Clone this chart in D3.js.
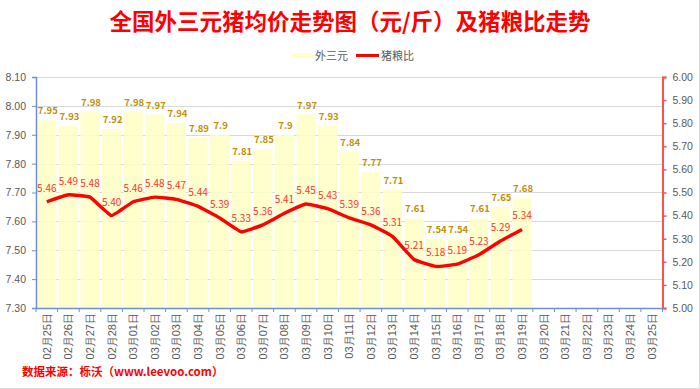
<!DOCTYPE html>
<html>
<head>
<meta charset="utf-8">
<script src="https://cdn.jsdelivr.net/npm/d3@7/dist/d3.min.js"></script>
<style>
  body { margin: 0; background: #fff; }
  svg { display: block; font-family: "Noto Sans CJK SC", "Noto Sans", sans-serif; }
</style>
</head>
<body>
<div id="chart"></div>
<script>
var dates = ["02月25日","02月26日","02月27日","02月28日","03月01日","03月02日","03月03日","03月04日",
  "03月05日","03月06日","03月07日","03月08日","03月09日","03月10日","03月11日","03月12日","03月13日",
  "03月14日","03月15日","03月16日","03月17日","03月18日","03月19日","03月20日","03月21日","03月22日",
  "03月23日","03月24日","03月25日"];
var priceValues = [7.95, 7.93, 7.98, 7.92, 7.98, 7.97, 7.94, 7.89, 7.9, 7.81, 7.85, 7.9, 7.97, 7.93,
  7.84, 7.77, 7.71, 7.61, 7.54, 7.54, 7.61, 7.65, 7.68];
var ratioValues = [5.46, 5.49, 5.48, 5.40, 5.46, 5.48, 5.47, 5.44, 5.39, 5.33, 5.36, 5.41, 5.45, 5.43,
  5.39, 5.36, 5.31, 5.21, 5.18, 5.19, 5.23, 5.29, 5.34];
var leftTicks = [7.3, 7.4, 7.5, 7.6, 7.7, 7.8, 7.9, 8.0, 8.1];
var rightTicks = [5.0, 5.1, 5.2, 5.3, 5.4, 5.5, 5.6, 5.7, 5.8, 5.9, 6.0];

var width = 700, height = 389;
var plotL = 36, plotR = 662.5, plotT = 77, plotB = 308;

var svg = d3.select("#chart").append("svg")
  .attr("width", width)
  .attr("height", height);

// outer frame (right and bottom edges only show)
svg.append("line").attr("x1", 699.5).attr("x2", 699.5).attr("y1", 0).attr("y2", 388.5)
  .style("stroke", "#d9d9d9");
svg.append("line").attr("x1", 0).attr("x2", 699.5).attr("y1", 388.5).attr("y2", 388.5)
  .style("stroke", "#d9d9d9");

var x = d3.scaleBand().domain(dates).range([plotL, plotR]).paddingInner(0.11).paddingOuter(0.055);
var yL = d3.scaleLinear().domain([7.3, 8.1]).range([plotB, plotT]);
var yR = d3.scaleLinear().domain([5.0, 6.0]).range([plotB, plotT]);

// title
svg.append("text")
  .attr("x", 350).attr("y", 30)
  .attr("text-anchor", "middle")
  .style("font-size", "22.5px")
  .style("font-weight", "bold")
  .style("fill", "#ff0000")
  .text("全国外三元猪均价走势图（元/斤）及猪粮比走势");

// legend
var lg = svg.append("g").style("font-size", "11px").style("fill", "#595959");
lg.append("rect").attr("x", 292).attr("y", 53).attr("width", 21).attr("height", 5).style("fill", "#ffffc8");
lg.append("text").attr("x", 315).attr("y", 59.5).text("外三元");
lg.append("line").attr("x1", 356).attr("x2", 379).attr("y1", 55.5).attr("y2", 55.5)
  .style("stroke", "#ff0000").style("stroke-width", 3);
lg.append("text").attr("x", 381).attr("y", 59.5).text("猪粮比");

// gridlines
svg.append("g").selectAll("line").data(leftTicks).enter().append("line")
  .attr("x1", plotL).attr("x2", plotR)
  .attr("y1", function(d){ return Math.round(yL(d)) + 0.5; })
  .attr("y2", function(d){ return Math.round(yL(d)) + 0.5; })
  .style("stroke", "#d9d9d9");

// bars
svg.append("g").selectAll("rect").data(priceValues).enter().append("rect")
  .attr("x", function(d, i){ return x(dates[i]); })
  .attr("width", x.bandwidth())
  .attr("y", function(d){ return yL(d); })
  .attr("height", function(d){ return plotB - yL(d); })
  .style("fill", "#ffffc4")
  .style("fill-opacity", 0.85);

// line
var line = d3.line()
  .x(function(d, i){ return x(dates[i]) + x.bandwidth() / 2; })
  .y(function(d){ return yR(d); })
  .curve(d3.curveCardinal.tension(0.7));
svg.append("path").datum(ratioValues)
  .attr("d", line)
  .style("fill", "none")
  .style("stroke", "#ff0000")
  .style("stroke-width", 3.4)
  .style("stroke-linejoin", "round");

// bar labels
svg.append("g").selectAll("text").data(priceValues).enter().append("text")
  .attr("x", function(d, i){ return x(dates[i]) + x.bandwidth() / 2 + 1; })
  .attr("y", function(d){ return yL(d) - 6; })
  .attr("text-anchor", "middle")
  .style("font-size", "9.5px")
  .style("font-weight", "bold")
  .style("fill", "#bf9000")
  .text(function(d){ return d; });

// line labels
svg.append("g").selectAll("text").data(ratioValues).enter().append("text")
  .attr("x", function(d, i){ return x(dates[i]) + x.bandwidth() / 2; })
  .attr("y", function(d){ return yR(d) - 10; })
  .attr("text-anchor", "middle")
  .style("font-size", "10px")
  .style("fill", "#ff3333")
  .text(function(d){ return d.toFixed(2); });

// left axis
var axL = svg.append("g").attr("transform", "translate(" + plotL + ",0)")
  .call(d3.axisLeft(yL).tickValues(leftTicks).tickFormat(d3.format(".2f")).tickSize(4).tickPadding(6));
axL.select(".domain").style("stroke", "#6f8fd0").style("stroke-width", 1.5);
axL.selectAll(".tick line").style("stroke", "#6f8fd0");
axL.selectAll("text").style("fill", "#595959").style("font-size", "10.5px")
  .style("font-family", "'Liberation Sans', sans-serif");

// right axis
var axR = svg.append("g").attr("transform", "translate(" + plotR + ",0)")
  .call(d3.axisRight(yR).tickValues(rightTicks).tickFormat(d3.format(".2f")).tickSize(4).tickPadding(6));
axR.select(".domain").style("stroke", "#ff5050").style("stroke-width", 2);
axR.selectAll(".tick line").style("stroke", "#ff5050").style("stroke-width", 1.5);
axR.selectAll("text").style("fill", "#595959").style("font-size", "10.5px")
  .style("font-family", "'Liberation Sans', sans-serif");

// bottom axis
var axB = svg.append("g").attr("transform", "translate(0," + plotB + ")")
  .call(d3.axisBottom(x).tickSize(0).tickPadding(0));
axB.select(".domain").style("stroke", "#6f8fd0").style("stroke-width", 1.5);
axB.selectAll(".tick text")
  .attr("transform", "translate(4,5) rotate(-90)")
  .attr("dy", 0)
  .style("text-anchor", "end")
  .style("fill", "#595959")
  .style("font-size", "11px");
// boundary tick marks between categories
axB.append("g").selectAll("line").data(dates.concat(["end"])).enter().append("line")
  .attr("x1", function(d, i){ return plotL + i * (plotR - plotL) / dates.length; })
  .attr("x2", function(d, i){ return plotL + i * (plotR - plotL) / dates.length; })
  .attr("y1", 0).attr("y2", 4)
  .style("stroke", "#6f8fd0");

// source
svg.append("text")
  .attr("x", 22).attr("y", 376)
  .style("font-size", "11.5px")
  .style("font-weight", "bold")
  .style("fill", "#ff0000")
  .text("数据来源：栎沃（www.leevoo.com）");
</script>
</body>
</html>
